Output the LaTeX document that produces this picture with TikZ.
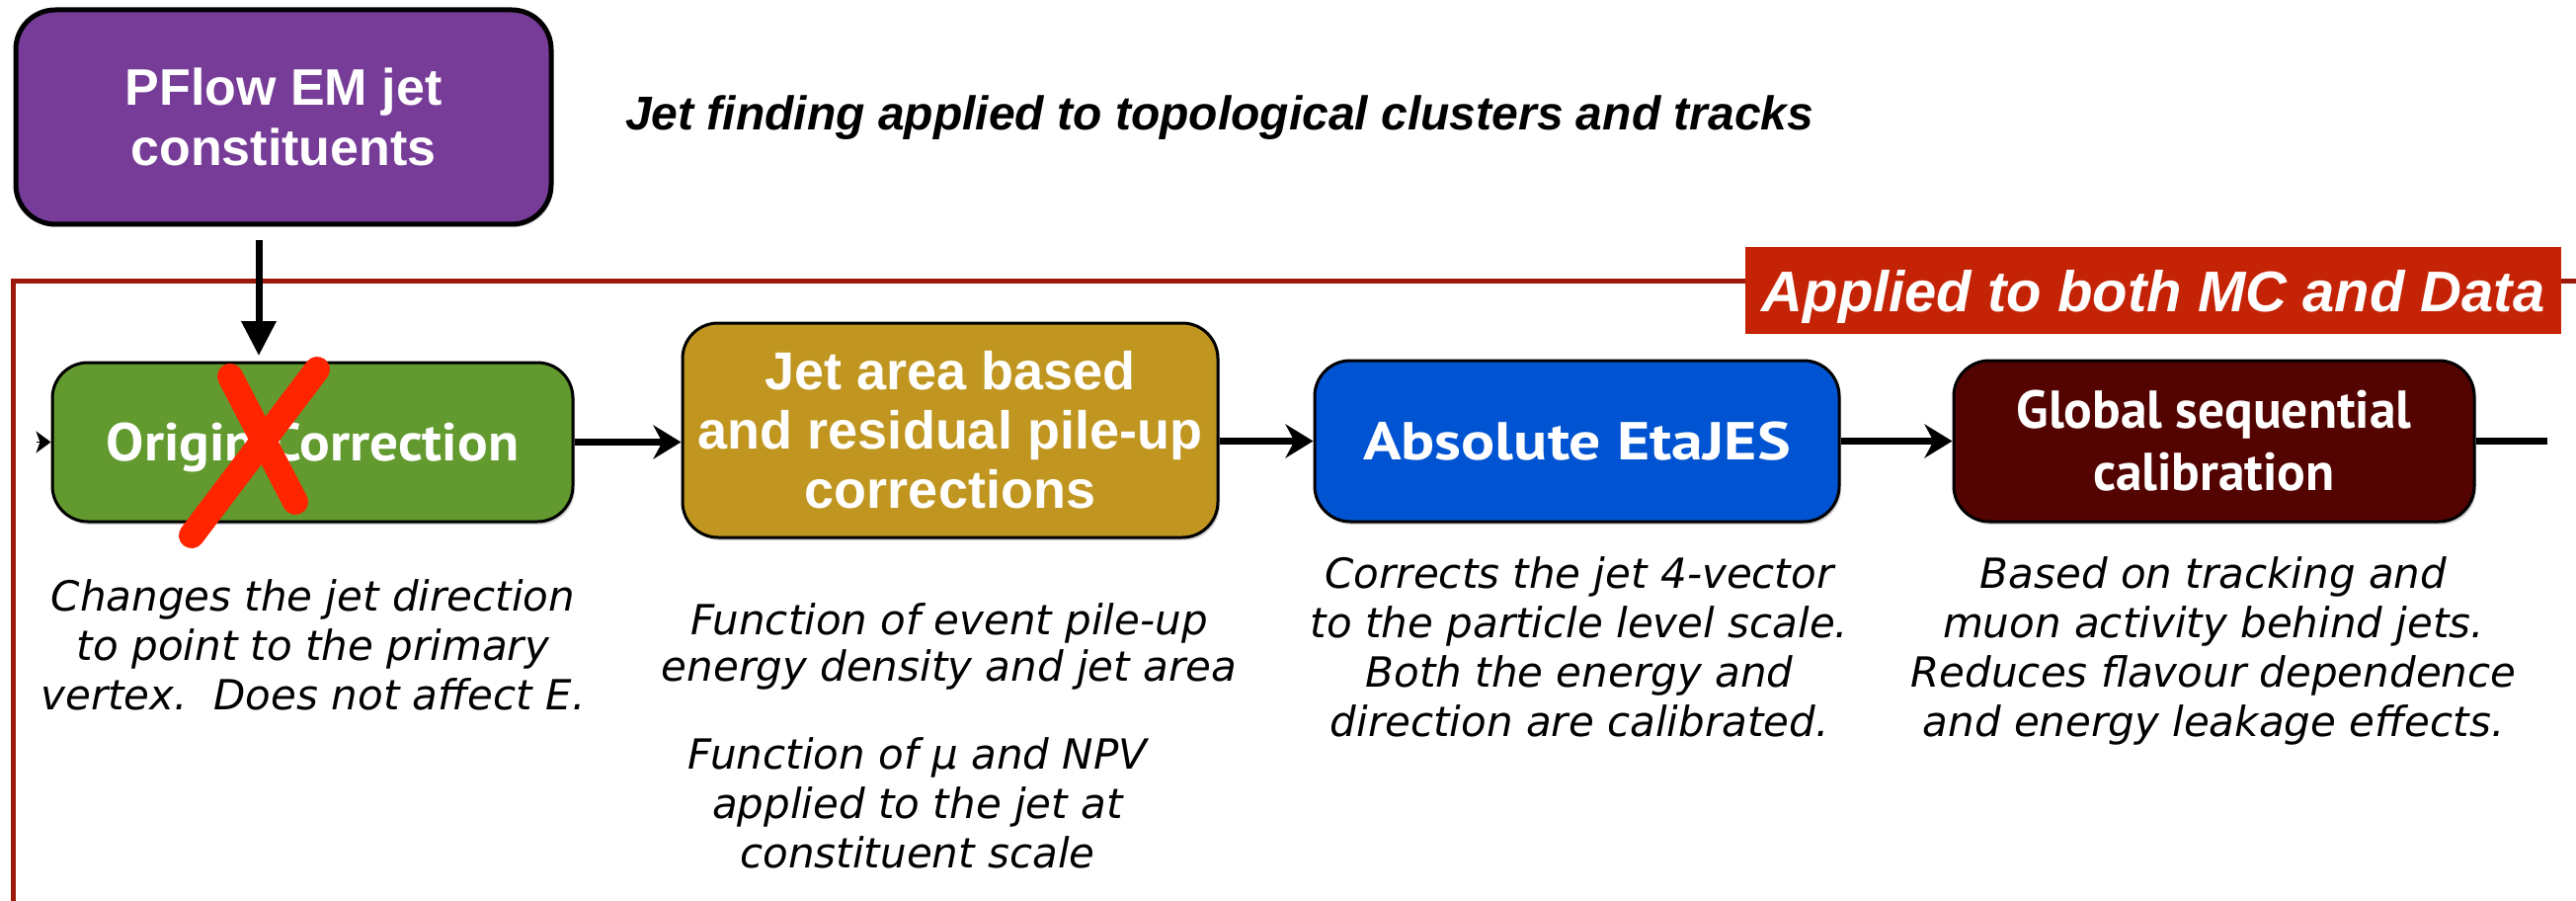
\documentclass[tikz,border=0pt]{standalone}
\usepackage{fontspec}
\setmainfont{Liberation Sans}
\newfontfamily\labfont{PT Sans}
\newfontfamily\dscfont{DejaVu Sans}
\usetikzlibrary{arrows.meta,shadows}
\definecolor{cpurple}{HTML}{763C97}
\definecolor{cgreen}{HTML}{629A2F}
\definecolor{cyellow}{HTML}{C09620}
\definecolor{cblue}{HTML}{0054D2}
\definecolor{cbrown}{HTML}{530400}
\definecolor{cbanner}{HTML}{C52305}
\definecolor{cframe}{HTML}{9C1A0B}
\definecolor{cx}{HTML}{FF2500}
\begin{document}
\begin{tikzpicture}[x=1pt,y=-1pt,
  box/.style={rectangle, rounded corners=36pt, draw=black, line width=3pt, inner sep=0pt,
    text=white, align=center,
    drop shadow={opacity=0.35, shadow xshift=2pt, shadow yshift=-3pt}},
  gillbox/.style={box, font=\labfont\bfseries\addfontfeatures{FakeStretch=#1}\fontsize{54}{63}\selectfont},
  desc/.style={anchor=north, inner sep=0pt, align=center,
    font=\dscfont\itshape\fontsize{42}{50}\selectfont},
  conn/.style={line width=7pt, -{Stealth[length=28pt,width=34pt,inset=9pt]}},
  frameline/.style={draw=cframe, line width=5pt},
  cross/.style={draw=cx, line width=26pt, line cap=round}
]
\useasboundingbox (0,0) rectangle (2608,912);
\fill[white] (0,0) rectangle (2608,912);

% frame
\draw[frameline] (13,940) -- (13,284) -- (2640,284);

% banner
\node[fill=cbanner, minimum width=826pt, minimum height=88pt, inner sep=0pt,
      text=white, text height=42pt, text depth=0pt,
      font=\bfseries\itshape\fontsize{58}{60}\selectfont] (banner) at (2180,294)
      {Applied to both MC and Data};

% top box and header
\node[box, line width=5pt, fill=cpurple, minimum width=542pt, minimum height=217pt,
      rounded corners=40pt, font=\bfseries\fontsize{52}{61}\selectfont] (pflow) at (287,118.5)
      {PFlow EM jet\\constituents};
\node[anchor=base west, inner sep=0pt, font=\bfseries\itshape\fontsize{48}{56}\selectfont] (header)
      at (633,132) {Jet finding applied to topological clusters and tracks};

% chain boxes
\node[gillbox=1.06, fill=cgreen, minimum width=527pt, minimum height=161pt, text depth=0pt] (origin)
      at (316.5,447.5) {Origin Correction};
\node[box, fill=cyellow, minimum width=542pt, minimum height=217pt,
      font=\bfseries\fontsize{54}{60}\selectfont] (area) at (962,435.5)
      {Jet area based\\and residual pile-up\\corrections};
\node[gillbox=1.18, fill=cblue, minimum width=531pt, minimum height=163pt, text depth=0pt] (eta)
      at (1596.5,446.5) {Absolute EtaJES};
\node[gillbox=0.99, fill=cbrown, minimum width=527pt, minimum height=163pt] (gsc)
      at (2241.5,446.5) {Global sequential\\calibration};

% connectors
\coordinate (dtop) at (262,243);
\coordinate (dbot) at (262,360);
\draw[line width=7pt, -{Triangle[length=35pt,width=34pt]}] (dtop) -- (dbot);
\coordinate (lin) at (37,447.5);
\draw[line width=1pt, -{Stealth[length=15pt,width=22pt,inset=4pt]}] (lin) -- (origin.west);
\draw[conn] (origin.east) -- (origin.east -| area.west);
\draw[conn] (eta.west -| area.east) -- (eta.west);
\draw[conn] (eta.east) -- (gsc.west);
\coordinate (rout) at (2579,446.5);
\draw[line width=7pt] (gsc.east) -- (rout);

% red cross
\draw[cross] (233,381) -- (299,508);
\draw[cross] (321,374) -- (194,542);

% descriptions
\node[desc] (d1) at (317,583) {\strut Changes the jet direction\\to point to the primary\\vertex.\ \ Does not affect E.};
\node[desc, font=\dscfont\itshape\fontsize{42}{47}\selectfont] (d2) at (961,609)
      {\strut Function of event pile-up\\energy density and jet area};
\node[desc] (d3) at (929,743) {\strut Function of μ and NPV\\applied to the jet at\\constituent scale};
\node[desc] (d4) at (1599,560) {\strut Corrects the jet 4-vector\\to the particle level scale.\\Both the energy and\\direction are calibrated.};
\node[desc] (d5) at (2241,560) {\strut Based on tracking and\\muon activity behind jets.\\Reduces flavour dependence\\and energy leakage effects.};
\end{tikzpicture}
\end{document}
